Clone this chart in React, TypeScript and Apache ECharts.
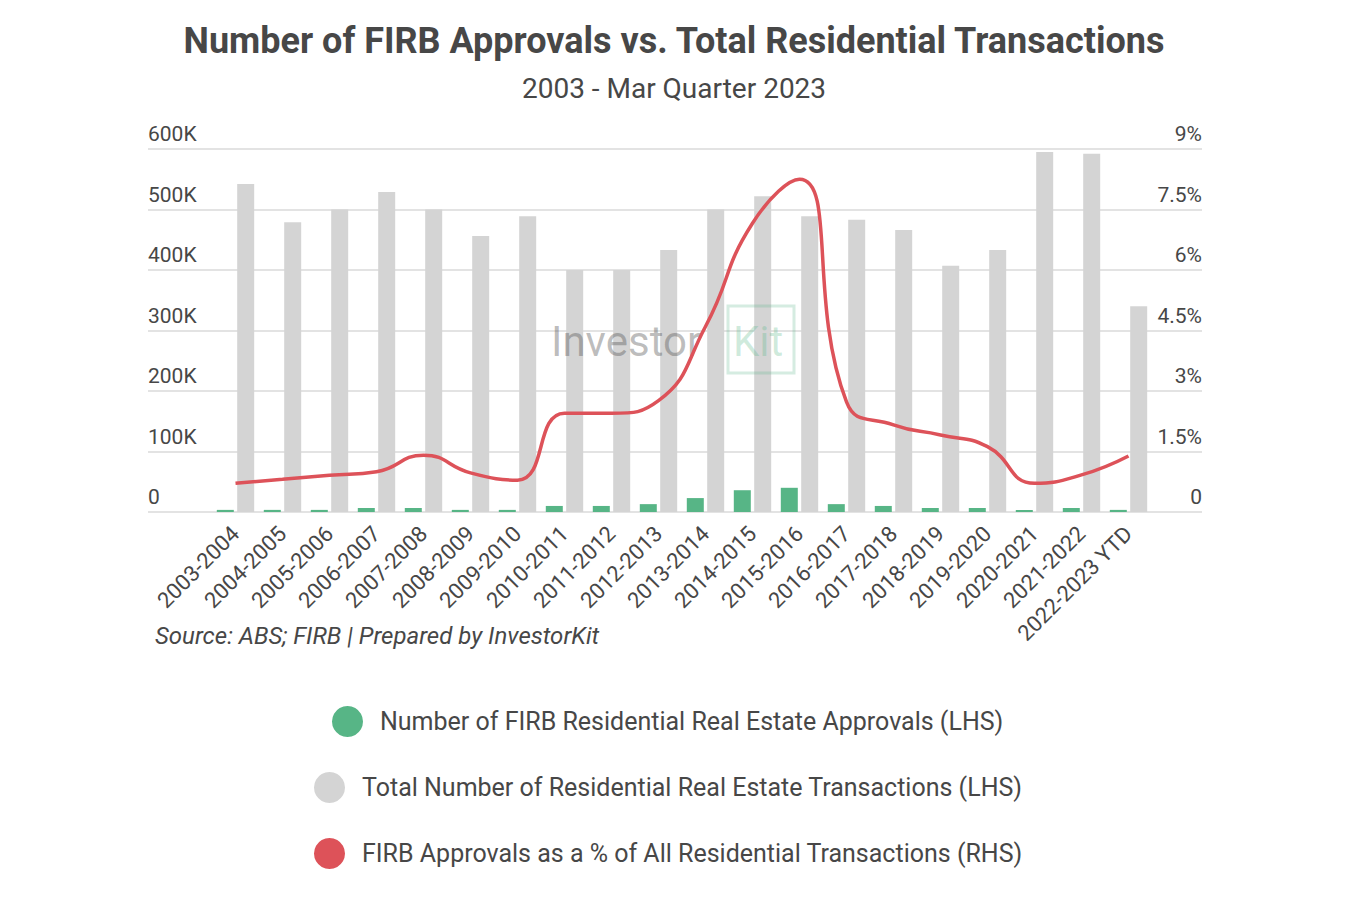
import React, { useEffect, useRef } from "react";
import * as echarts from "echarts";

// Financial years shown along the category axis
const categories = [
  "2003-2004", "2004-2005", "2005-2006", "2006-2007", "2007-2008",
  "2008-2009", "2009-2010", "2010-2011", "2011-2012", "2012-2013",
  "2013-2014", "2014-2015", "2015-2016", "2016-2017", "2017-2018",
  "2018-2019", "2019-2020", "2020-2021", "2021-2022", "2022-2023 YTD",
];

// Number of FIRB residential real estate approvals (LHS)
const firbApprovals = [
  3500, 3500, 3500, 6600, 6600, 3500, 3500, 10000, 10000, 13000,
  23000, 36000, 40000, 13000, 10000, 6600, 6600, 3500, 6600, 3500,
];

// Total number of residential real estate transactions (LHS)
const totalTransactions = [
  542000, 479000, 500000, 529000, 500000, 456000, 489000, 400000, 400000, 433000,
  500000, 522000, 489000, 483000, 466000, 407000, 433000, 595000, 592000, 340000,
];

// FIRB approvals as a % of all residential transactions (RHS)
const firbShare = [
  0.71, 0.81, 0.91, 1.0, 1.41, 0.97, 0.79, 2.45, 2.45, 2.76,
  4.6, 7.16, 8.25, 2.73, 2.16, 1.91, 1.62, 0.71, 0.92, 1.39,
];

const leftTicks = { min: 0, max: 600000, interval: 100000 };
const rightTicks = { min: 0, max: 9, interval: 1.5 };

const SERIES_NAMES = [
  "Number of FIRB Residential Real Estate Approvals (LHS)",
  "Total Number of Residential Real Estate Transactions (LHS)",
  "FIRB Approvals as a % of All Residential Transactions (RHS)",
];

const COLORS = { green: "#57b586", gray: "#d4d4d4", red: "#dd5259" };
const TEXT = "#474747";
const FONT = "Roboto";

export default function App() {
  const ref = useRef<HTMLDivElement>(null);

  useEffect(() => {
    if (!ref.current) return;
    const chart = echarts.init(ref.current, undefined, { renderer: "svg" });

    const axisLabelBase = {
      inside: true,
      margin: 0,
      color: TEXT,
      fontFamily: FONT,
      fontSize: 21,
      verticalAlign: "bottom" as const,
      lineHeight: 22,
      padding: [0, 0, 4, 0],
      showMinLabel: true,
      showMaxLabel: true,
    };

    const legend = (i: number, left: number, top: number, color: string) => ({
      data: [{ name: SERIES_NAMES[i], icon: "circle", itemStyle: { color } }],
      left,
      top,
      itemWidth: 31,
      itemHeight: 31,
      selectedMode: false,
      textStyle: {
        color: TEXT,
        fontFamily: FONT,
        fontSize: 25,
        padding: [0, 0, 0, 12],
      },
    });

    chart.setOption({
      animation: false,
      backgroundColor: "#ffffff",
      textStyle: { fontFamily: FONT },
      title: [
        {
          text: "Number of FIRB Approvals vs. Total Residential Transactions",
          left: "center",
          top: 18,
          textStyle: { color: TEXT, fontFamily: FONT, fontSize: 36, fontWeight: "bold" },
        },
        {
          text: "2003 - Mar Quarter 2023",
          left: "center",
          top: 69,
          textStyle: { color: TEXT, fontFamily: FONT, fontSize: 28, fontWeight: "normal" },
        },
      ],
      legend: [
        legend(0, 327, 701, COLORS.green),
        legend(1, 309, 767, COLORS.gray),
        legend(2, 309, 833, COLORS.red),
      ],
      grid: [
        // Full-width grid holding the value axes and their grid lines
        { left: 148, right: 146, top: 149, height: 363 },
        // Narrower grid holding the category bands
        { left: 212, right: 196, top: 149, height: 363 },
      ],
      xAxis: [
        { type: "value", gridIndex: 0, min: 0, max: 1, show: false },
        {
          type: "category",
          gridIndex: 1,
          data: categories,
          axisLine: { show: false },
          axisTick: { show: false },
          axisLabel: {
            rotate: 45,
            interval: 0,
            margin: 18,
            color: TEXT,
            fontFamily: FONT,
            fontSize: 22,
          },
        },
      ],
      yAxis: [
        {
          type: "value",
          gridIndex: 0,
          position: "left",
          ...leftTicks,
          axisLine: { show: false },
          axisTick: { show: false },
          splitLine: { show: true, lineStyle: { color: "#dadada", width: 1.5 } },
          axisLabel: {
            ...axisLabelBase,
            formatter: (v: number) => (v === 0 ? "0" : `${v / 1000}K`),
          },
        },
        {
          type: "value",
          gridIndex: 0,
          position: "right",
          ...rightTicks,
          axisLine: { show: false },
          axisTick: { show: false },
          splitLine: { show: false },
          axisLabel: {
            ...axisLabelBase,
            formatter: (v: number) => (v === 0 ? "0" : `${v}%`),
          },
        },
        { type: "value", gridIndex: 1, ...leftTicks, show: false },
        { type: "value", gridIndex: 1, ...rightTicks, show: false },
      ],
      graphic: [
        {
          type: "text",
          left: 155,
          top: 624,
          style: {
            text: "Source: ABS; FIRB | Prepared by InvestorKit",
            fill: TEXT,
            font: `italic 24px ${FONT}`,
          },
        },
        // InvestorKit watermark
        {
          type: "text",
          z: 5,
          x: 551,
          y: 341,
          style: {
            text: "Investor",
            fill: "rgba(80,80,80,0.38)",
            font: `42px ${FONT}`,
            verticalAlign: "middle",
          },
        },
        {
          type: "rect",
          z: 5,
          shape: { x: 728, y: 306, width: 66, height: 67 },
          style: { fill: "none", stroke: "rgba(87,181,134,0.25)", lineWidth: 3 },
        },
        {
          type: "text",
          z: 5,
          x: 733,
          y: 341,
          style: {
            text: "Kit",
            fill: "rgba(87,181,134,0.28)",
            font: `42px ${FONT}`,
            verticalAlign: "middle",
          },
        },
      ],
      series: [
        {
          name: SERIES_NAMES[0],
          type: "bar",
          xAxisIndex: 1,
          yAxisIndex: 2,
          data: firbApprovals,
          barWidth: 17,
          barGap: "20%",
          itemStyle: { color: COLORS.green },
        },
        {
          name: SERIES_NAMES[1],
          type: "bar",
          xAxisIndex: 1,
          yAxisIndex: 2,
          data: totalTransactions,
          barWidth: 17,
          barGap: "20%",
          itemStyle: { color: COLORS.gray },
        },
        {
          name: SERIES_NAMES[2],
          type: "line",
          xAxisIndex: 1,
          yAxisIndex: 3,
          data: firbShare,
          smooth: 0.5,
          showSymbol: false,
          z: 10,
          lineStyle: { color: COLORS.red, width: 3.5 },
          itemStyle: { color: COLORS.red },
        },
      ],
    });

    return () => chart.dispose();
  }, []);

  return (
    <div
      ref={ref}
      style={{ position: "fixed", left: 0, top: 0, width: 1348, height: 900 }}
    />
  );
}
